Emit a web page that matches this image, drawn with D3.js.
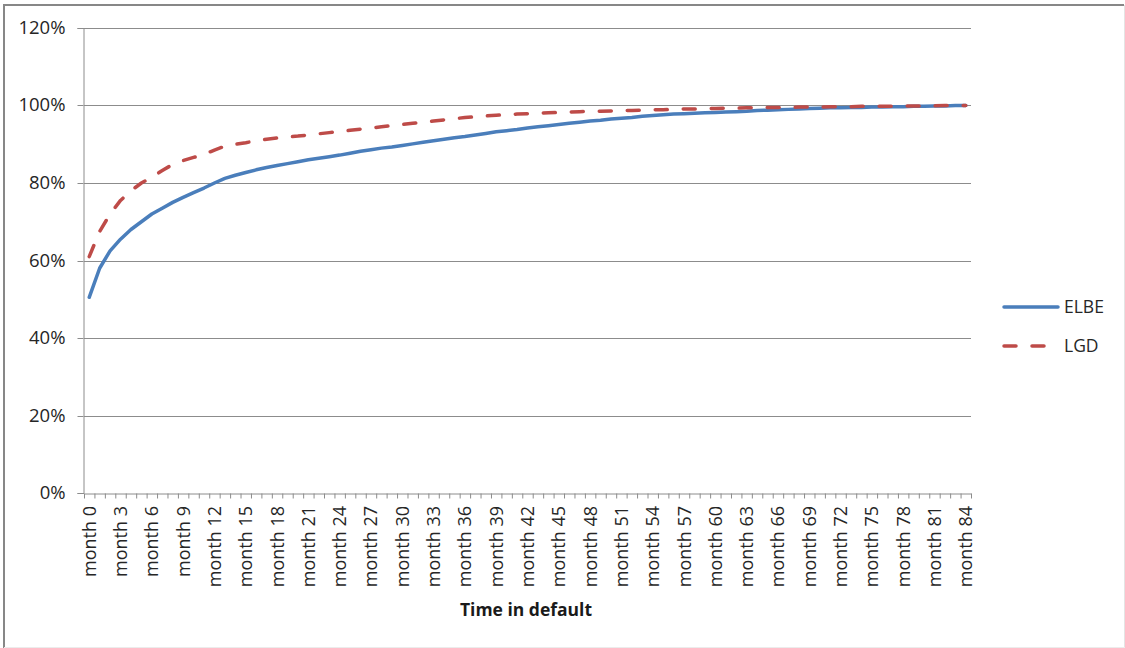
<!DOCTYPE html>
<html>
<head>
<meta charset="utf-8">
<script src="https://cdn.jsdelivr.net/npm/d3@7"></script>
<style>
  html, body { margin: 0; padding: 0; background: #fff; }
  svg { display: block; font-family: "Open Sans", "DejaVu Sans", sans-serif; }
</style>
</head>
<body>
<svg id="chart" width="1125" height="648"></svg>
<script>
// Months in default, 0..84
const months = d3.range(0, 85);

// Cumulative expected loss best estimate (%)
const elbe = [
  50.5, 58.0, 62.5, 65.5, 68.0, 70.0, 72.0, 73.5, 75.0, 76.3,
  77.5, 78.7, 80.0, 81.2, 82.0, 82.7, 83.4, 84.0, 84.5, 85.0,
  85.5, 86.0, 86.4, 86.8, 87.2, 87.7, 88.2, 88.6, 89.0, 89.3,
  89.7, 90.1, 90.5, 90.9, 91.3, 91.7, 92.0, 92.4, 92.8, 93.2,
  93.5, 93.8, 94.2, 94.5, 94.8, 95.1, 95.4, 95.7, 96.0, 96.2,
  96.5, 96.7, 96.9, 97.2, 97.4, 97.6, 97.8, 97.9, 98.0, 98.1,
  98.2, 98.3, 98.4, 98.5, 98.7, 98.8, 98.9, 99.0, 99.1, 99.2,
  99.3, 99.4, 99.4, 99.5, 99.5, 99.6, 99.6, 99.7, 99.7, 99.8,
  99.8, 99.9, 99.9, 100.0, 100.0
];

// Loss given default (%)
const lgd = [
  61.0, 67.5, 72.0, 75.5, 78.0, 80.0, 81.5, 83.2, 84.8, 85.8,
  86.6, 87.4, 88.5, 89.5, 90.0, 90.4, 90.9, 91.3, 91.6, 91.9,
  92.1, 92.4, 92.7, 93.0, 93.3, 93.6, 93.9, 94.2, 94.5, 94.8,
  95.1, 95.4, 95.7, 96.0, 96.3, 96.6, 96.9, 97.1, 97.3, 97.5,
  97.6, 97.8, 97.9, 98.0, 98.1, 98.2, 98.3, 98.4, 98.5, 98.5,
  98.6, 98.7, 98.7, 98.8, 98.9, 98.9, 99.0, 99.1, 99.1, 99.2,
  99.2, 99.3, 99.3, 99.4, 99.4, 99.5, 99.5, 99.5, 99.6, 99.6,
  99.6, 99.7, 99.7, 99.7, 99.8, 99.8, 99.8, 99.8, 99.9, 99.9,
  99.9, 99.9, 100.0, 100.0, 100.0
];

const yTicks = [0, 20, 40, 60, 80, 100, 120];
const monthLabel = m => "month " + m;
const seriesNames = ["ELBE", "LGD"];
const seriesColors = ["#4A7EBB", "#BE4B48"];

const svg = d3.select("#chart");
const plotLeft = 84, plotRight = 971, plotTop = 28, plotBottom = 493;

// Outer chart frame
svg.append("line").attr("x1", 3).attr("x2", 1124).attr("y1", 5).attr("y2", 5)
  .attr("stroke", "#878787").attr("stroke-width", 2);
svg.append("line").attr("x1", 4).attr("x2", 4).attr("y1", 4).attr("y2", 648)
  .attr("stroke", "#878787").attr("stroke-width", 2);
svg.append("line").attr("x1", 1124.5).attr("x2", 1124.5).attr("y1", 5).attr("y2", 648)
  .attr("stroke", "#e4e4e4").attr("stroke-width", 1);
svg.append("line").attr("x1", 4).attr("x2", 1125).attr("y1", 647.5).attr("y2", 647.5)
  .attr("stroke", "#ececec").attr("stroke-width", 1);

const x = d3.scaleBand().domain(months).range([plotLeft, plotRight]).padding(0);
const xEdge = d3.scaleLinear().domain([0, months.length]).range([plotLeft, plotRight]);
const y = d3.scaleLinear().domain([0, 120]).range([plotBottom, plotTop]);
const cx = m => x(m) + x.bandwidth() / 2;

// Horizontal gridlines
svg.append("g").selectAll("line").data(yTicks.filter(t => t > 0)).join("line")
  .attr("x1", plotLeft).attr("x2", plotRight)
  .attr("y1", d => Math.round(y(d)) + 0.5).attr("y2", d => Math.round(y(d)) + 0.5)
  .attr("stroke", "#8c8c8c").attr("stroke-width", 1);

// Y axis
const yAxis = svg.append("g")
  .attr("transform", `translate(${plotLeft - 0.5},0)`)
  .call(d3.axisLeft(y).tickValues(yTicks).tickFormat(d => d + "%").tickSize(6).tickPadding(12))
  .call(g => g.selectAll("path, line").attr("stroke", "#8c8c8c"))
  .call(g => g.selectAll("text").attr("fill", "#262626").style("font-size", "18.5px")
    .style("font-family", "'Open Sans', sans-serif"));
yAxis.selectAll(".tick").attr("transform", d => `translate(0,${Math.round(y(d)) + 0.5})`);

// X axis: tick marks on category boundaries
svg.append("g")
  .attr("transform", `translate(0,${plotBottom + 0.5})`)
  .call(d3.axisBottom(xEdge).tickValues(d3.range(0, months.length + 1)).tickFormat("").tickSize(5).tickSizeOuter(0))
  .call(g => g.selectAll("path, line").attr("stroke", "#8c8c8c"));

// X axis labels every third month, rotated
svg.append("g").selectAll("text").data(months.filter(m => m % 3 === 0)).join("text")
  .attr("transform", d => `translate(${cx(d)},${plotBottom + 13}) rotate(-90)`)
  .attr("text-anchor", "end")
  .attr("dy", "0.36em")
  .attr("fill", "#262626")
  .style("font-size", "18px")
  .text(monthLabel);

// Axis title
svg.append("text")
  .attr("x", 526).attr("y", 616)
  .attr("text-anchor", "middle")
  .attr("fill", "#1a1a1a")
  .style("font-size", "17.5px").style("font-weight", "bold")
  .text("Time in default");

// Series lines
const line = d3.line().x((d, i) => cx(months[i])).y(d => y(d));
svg.append("path").datum(elbe)
  .attr("d", line).attr("fill", "none")
  .attr("stroke", seriesColors[0]).attr("stroke-width", 3.5)
  .attr("stroke-linejoin", "round").attr("stroke-linecap", "round");
svg.append("path").datum(lgd)
  .attr("d", line).attr("fill", "none")
  .attr("stroke", seriesColors[1]).attr("stroke-width", 3.5)
  .attr("stroke-dasharray", "12,16")
  .attr("stroke-linejoin", "round").attr("stroke-linecap", "round");

// Legend
const legend = svg.append("g");
seriesNames.forEach((name, i) => {
  const ly = 307 + i * 39;
  legend.append("line")
    .attr("x1", 1004).attr("x2", 1058).attr("y1", ly).attr("y2", ly)
    .attr("stroke", seriesColors[i]).attr("stroke-width", 3.5)
    .attr("stroke-linecap", "round")
    .attr("stroke-dasharray", i === 1 ? "12,16" : null);
  legend.append("text")
    .attr("x", 1064).attr("y", ly).attr("dy", "0.36em")
    .attr("fill", "#262626").style("font-size", "17.5px")
    .text(name);
});
</script>
</body>
</html>
